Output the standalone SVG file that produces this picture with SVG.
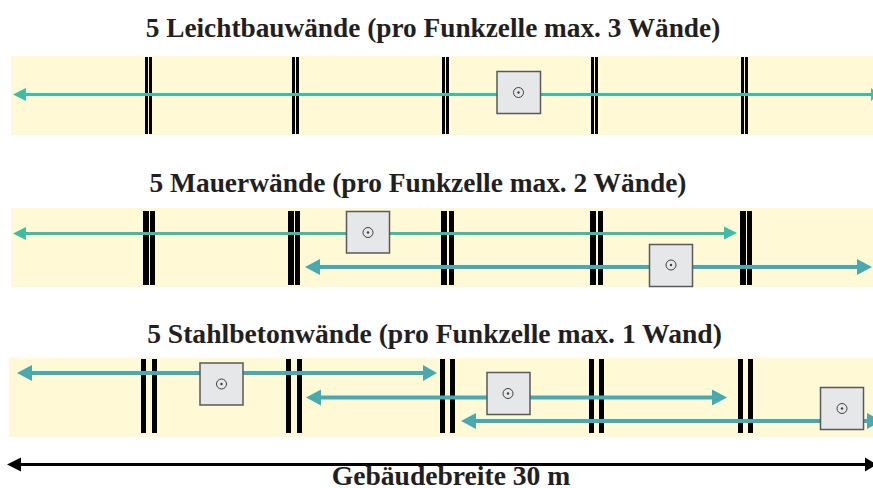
<svg xmlns="http://www.w3.org/2000/svg" width="873" height="488" viewBox="0 0 873 488">
<style>
.band{fill:#fff9d6}
.wall{fill:#000}
.t{font-family:"Liberation Serif","Times New Roman",serif;font-weight:bold;fill:#231f20;text-anchor:middle}
.dev{fill:#e6e7e8;stroke:#58595b;stroke-width:1.5}
.ring{fill:none;stroke:#414042;stroke-width:1}
.dot{fill:#414042}
.g{stroke:#3dbda5;stroke-width:3;fill:none}
.b{stroke:#48a9b0;stroke-width:4;fill:none}
.k{stroke:#000;stroke-width:3;fill:none}
.gh{fill:#3dbda5}.bh{fill:#48a9b0}.kh{fill:#000}
</style>
<rect class="band" x="11" y="56" width="862" height="79"/>
<rect class="band" x="11" y="208" width="862" height="79"/>
<rect class="band" x="9" y="358" width="864" height="79"/>
<g id="walls-1" class="wall">
<rect x="145" y="57" width="3" height="77"/><rect x="149" y="57" width="3" height="77"/>
<rect x="292" y="57" width="3" height="77"/><rect x="296" y="57" width="3" height="77"/>
<rect x="442" y="57" width="3" height="77"/><rect x="446" y="57" width="3" height="77"/>
<rect x="591" y="57" width="3" height="77"/><rect x="595" y="57" width="3" height="77"/>
<rect x="741" y="57" width="3" height="77"/><rect x="745" y="57" width="3" height="77"/>
</g>
<g id="walls-2" class="wall">
<rect x="143" y="211" width="6" height="74"/><rect x="150" y="211" width="5" height="74"/>
<rect x="288" y="211" width="6" height="74"/><rect x="295" y="211" width="5" height="74"/>
<rect x="441" y="211" width="6" height="74"/><rect x="449" y="211" width="5" height="74"/>
<rect x="590" y="211" width="6" height="74"/><rect x="598" y="211" width="5" height="74"/>
<rect x="740" y="211" width="6" height="74"/><rect x="747" y="211" width="5" height="74"/>
</g>
<g id="walls-3" class="wall">
<rect x="141" y="359" width="5" height="74"/><rect x="152" y="359" width="5" height="74"/>
<rect x="286" y="359" width="5" height="74"/><rect x="297" y="359" width="5" height="74"/>
<rect x="440" y="359" width="5" height="74"/><rect x="450" y="359" width="5" height="74"/>
<rect x="589" y="359" width="5" height="74"/><rect x="599" y="359" width="5" height="74"/>
<rect x="738" y="359" width="5" height="74"/><rect x="748" y="359" width="5" height="74"/>
</g>
<g id="connectors">
<path class="g" d="M24 94.500H873"/><path class="gh" d="M13 94.500L26 88V101Z"/><path class="gh" d="M871 88L878 94.500L871 101Z"/>
<path class="g" d="M24 233.500H726"/><path class="gh" d="M13 233.500L26 227V240Z"/><path class="gh" d="M737 233L724 226.500V239.500Z"/>
<path class="b" d="M318 267H859"/><path class="bh" d="M305 267L320 259V275Z"/><path class="bh" d="M872 267L857 259V275Z"/>
<path class="b" d="M30 373H425"/><path class="bh" d="M17 373L32 365V381Z"/><path class="bh" d="M437 373L423 365V381Z"/>
<path class="b" d="M319 397.500H714"/><path class="bh" d="M306 397.500L321 389.500V405.500Z"/><path class="bh" d="M727 397.500L712 389.500V405.500Z"/>
<path class="b" d="M474 421H873"/><path class="bh" d="M461 421L476 413V429Z"/><path class="bh" d="M867 413L882 421L867 429Z"/>
<path class="k" d="M18 464.500H868"/><path class="kh" d="M7 464.500L21 457.500V471.500Z"/><path class="kh" d="M865 457.500L877 464.500L865 471.500Z"/>
</g>
<g id="ap-1"><rect class="dev" x="497" y="71.500" width="43.500" height="42"/><circle class="ring" cx="518.500" cy="92.500" r="5"/><circle class="dot" cx="518.500" cy="92.500" r="1.200"/></g>
<g id="ap-2"><rect class="dev" x="346.500" y="211.500" width="43" height="41.500"/><circle class="ring" cx="368" cy="232.500" r="5"/><circle class="dot" cx="368" cy="232.500" r="1.200"/></g>
<g id="ap-3"><rect class="dev" x="649.500" y="244.500" width="43" height="42"/><circle class="ring" cx="671" cy="265" r="5"/><circle class="dot" cx="671" cy="265" r="1.200"/></g>
<g id="ap-4"><rect class="dev" x="200" y="363" width="43" height="42"/><circle class="ring" cx="221.500" cy="384" r="5"/><circle class="dot" cx="221.500" cy="384" r="1.200"/></g>
<g id="ap-5"><rect class="dev" x="487" y="372.500" width="43" height="42"/><circle class="ring" cx="508" cy="393.500" r="5"/><circle class="dot" cx="508" cy="393.500" r="1.200"/></g>
<g id="ap-6"><rect class="dev" x="820.500" y="387.500" width="43" height="42"/><circle class="ring" cx="842" cy="408.500" r="5"/><circle class="dot" cx="842" cy="408.500" r="1.200"/></g>
<g id="titles">
<text class="t" x="433" y="37" font-size="27.300">5 Leichtbauwände (pro Funkzelle max. 3 Wände)</text>
<text class="t" x="418" y="192" font-size="27.400">5 Mauerwände (pro Funkzelle max. 2 Wände)</text>
<text class="t" x="434.500" y="343" font-size="27.600">5 Stahlbetonwände (pro Funkzelle max. 1 Wand)</text>
<text class="t" x="451" y="485" font-size="27.600">Gebäudebreite 30 m</text>
</g>
</svg>
